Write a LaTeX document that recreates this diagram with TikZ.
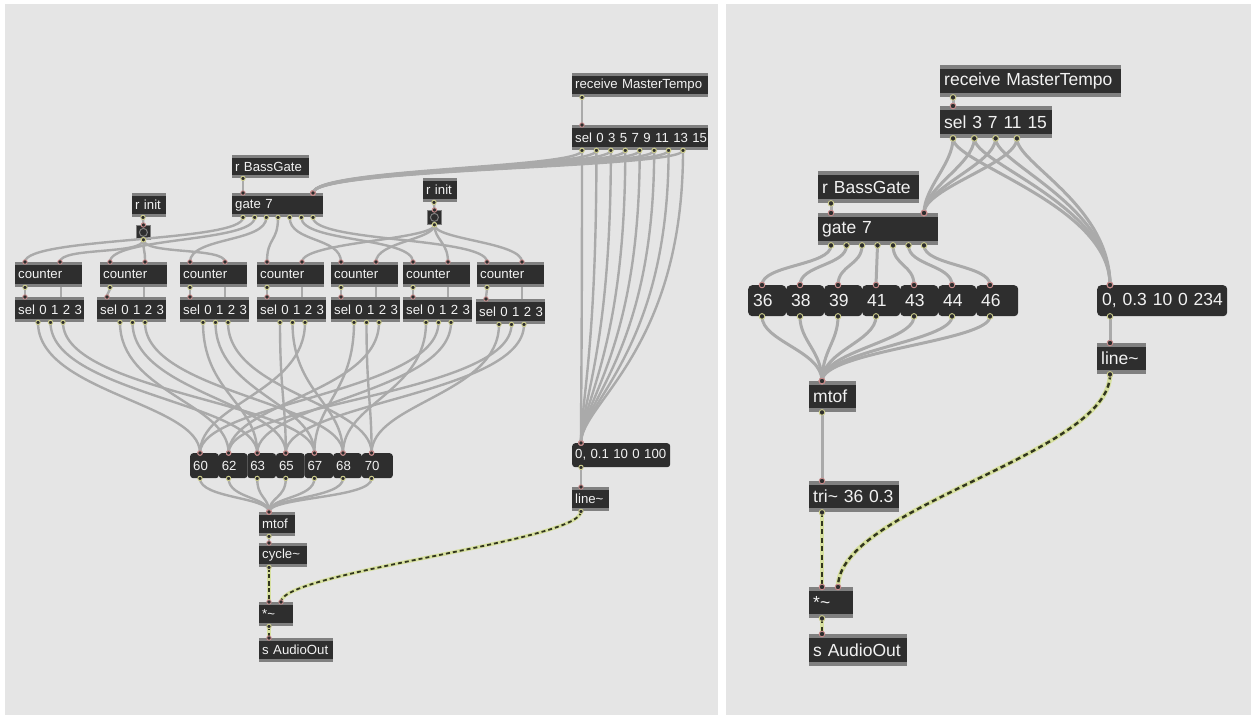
\documentclass[tikz,border=0pt]{standalone}
\usepackage{fontspec}
\newfontfamily\patchfont{Liberation Sans}
\usetikzlibrary{positioning}

\definecolor{patchbg}{RGB}{229,229,229}
\definecolor{boxbody}{RGB}{46,46,46}
\definecolor{boxstrip}{RGB}{128,128,128}
\definecolor{boxtext}{RGB}{242,242,242}
\definecolor{cordgray}{RGB}{170,170,170}
\definecolor{signalbase}{RGB}{215,224,160}
\definecolor{signaldash}{RGB}{50,54,30}
\definecolor{inletring}{RGB}{200,140,140}
\definecolor{outletring}{RGB}{205,205,140}

\newcommand{\smallpatch}{\patchfont\fontsize{13.2}{14}\selectfont}
\newcommand{\bigpatch}{\patchfont\fontsize{17.5}{18}\selectfont}
\newcommand{\portsize}{2.2pt}

\tikzset{max box/.style={rectangle, fill=boxbody, text=boxtext, anchor=north west,
    inner xsep=3pt, inner ysep=0pt, align=left,
    execute at begin node={\hbox\bgroup}, execute at end node={\egroup}}}
\tikzset{strips/.style={path picture={
      \fill [boxstrip] (path picture bounding box.north west) rectangle
        ([yshift=-#1]path picture bounding box.north east);
      \fill [boxstrip] (path picture bounding box.south west) rectangle
        ([yshift=#1]path picture bounding box.south east);}}}
\tikzset{obj/.style 2 args={max box, strips=3pt, font=\smallpatch,
    text width=#1, minimum height=#2}}
\tikzset{big obj/.style 2 args={max box, strips=4pt, font=\bigpatch,
    inner xsep=4pt, text width=#1, minimum height=#2}}
\tikzset{msg/.style 2 args={max box, rounded corners=3pt, font=\smallpatch,
    text width=#1, minimum height=#2}}
\tikzset{big msg/.style 2 args={max box, rounded corners=4pt, font=\bigpatch,
    inner xsep=5pt, text width=#1, minimum height=#2}}
\tikzset{bang box/.style={rectangle, fill=boxbody, draw=boxstrip, line width=0.8pt,
    anchor=north west, minimum size=14pt, inner sep=0pt,
    path picture={\draw [boxstrip, line width=1pt]
      (path picture bounding box.center) circle (4pt);}}}
\tikzset{cord/.style={draw=cordgray, line width=2.4pt}}
\tikzset{big cord/.style={draw=cordgray, line width=3pt}}
\tikzset{signal base/.style={draw=signalbase, line width=3.6pt}}
\tikzset{signal dash/.style={draw=signaldash, line width=1.8pt, dash pattern=on 4pt off 3pt}}
\tikzset{inlet dot/.style={fill=boxbody, draw=inletring, line width=0.9pt}}
\tikzset{outlet dot/.style={fill=boxbody, draw=outletring, line width=0.9pt}}

\newcommand{\patchcord}[5][cord]{%
  \draw [#1] (#2) .. controls +(0,#4) and +(0,-#5) .. (#3);
  \draw [outlet dot] (#2) circle (\portsize);
  \draw [inlet dot] (#3) circle (\portsize);}
\newcommand{\signalcord}[4]{%
  \draw [signal base] (#1) .. controls +(0,#3) and +(0,-#4) .. (#2);
  \draw [signal dash] (#1) .. controls +(0,#3) and +(0,-#4) .. (#2);
  \draw [outlet dot] (#1) circle (\portsize);
  \draw [inlet dot] (#2) circle (\portsize);}

\begin{document}
\begin{tikzpicture}[x=1pt, y=-1pt]
  \useasboundingbox (0,0) rectangle (1251,717);
  \fill [white] (0,0) rectangle (1251,717);
  \fill [patchbg] (5,4) rectangle (718,715);
  \fill [patchbg] (726,4) rectangle (1251,715);

  % left patch
  \begin{scope}
    \node [obj={130pt}{24pt}]    (recvL)  at (572, 73)  {receive MasterTempo};
    \node [obj={130pt}{25pt}]    (selL)   at (572,125)  {sel 0 3 5 7 9 11 13 15};
    \node [obj={71pt}{23pt}]     (bassL)  at (232,155)  {r BassGate};
    \node [obj={85pt}{24pt}]     (gateL)  at (232,193)  {gate 7};
    \node [obj={28pt}{24pt}]     (initA)  at (132,193)  {r init};
    \node [bang box]             (bangA)  at (136,225)  {};
    \node [obj={28pt}{24pt}]     (initB)  at (423,178)  {r init};
    \node [bang box]             (bangB)  at (427,210)  {};
    \foreach \x [count=\i] in {15,100,180,257,331,403,477}
      \node [obj={61pt}{25pt}]   (cntL\i) at (\x,262)   {counter};
    \foreach \x/\ypos [count=\i] in {15/297,97/297,180/297,257/297,331/297,403/297,476/299}
      \node [obj={63pt}{25pt}]   (selL\i) at (\x,\ypos) {sel 0 1 2 3};
    \foreach \v/\w [count=\i] in {60/22.6,62/22.6,63/22.6,65/22.6,67/22.6,68/22.6,70/25}
      \node [msg={\w pt}{25pt}]  (noteL\i) at ({190+28.6*(\i-1)},453) {\v};
    \node [obj={30pt}{24pt}]     (mtofL)  at (259,512)  {mtof};
    \node [obj={42pt}{24pt}]     (cycL)   at (259,543)  {cycle\textasciitilde};
    \node [obj={28pt}{24pt}]     (mulL)   at (259,602)  {*\textasciitilde};
    \node [obj={68pt}{24pt}]     (outL)   at (259,638)  {s AudioOut};
    \node [msg={92pt}{24pt}]     (envL)   at (572,443)  {0, 0.1 10 0 100};
    \node [obj={31pt}{24pt}]     (lineL)  at (572,487)  {line\textasciitilde};

    \patchcord{[xshift=10pt]recvL.south west}{[xshift=10pt]selL.north west}{5}{5}
    \foreach \i in {0,...,7} {
      \pgfmathsetmacro{\ox}{10+14.43*\i}
      \patchcord{[xshift=\ox pt]selL.south west}{[xshift=81pt]gateL.north west}{18}{25}
      \patchcord{[xshift=\ox pt]selL.south west}{[xshift=9pt]envL.north west}{200}{40}
    }
    \patchcord{[xshift=11pt]bassL.south west}{[xshift=11pt]gateL.north west}{5}{5}
    \patchcord{[xshift=11pt]initA.south west}{bangA.north}{3}{3}
    \patchcord{[xshift=11pt]initB.south west}{bangB.north}{3}{3}
    \foreach \i in {1,...,7} {
      \pgfmathsetmacro{\ox}{11+11.67*(\i-1)}
      \patchcord{[xshift=\ox pt]gateL.south west}{[xshift=10pt]cntL\i.north west}{25}{25}
    }
    \foreach \i in {1,2,3} {
      \patchcord{bangA.south}{[xshift=45pt]cntL\i.north west}{15}{15}
    }
    \foreach \i in {4,...,7} {
      \patchcord{bangB.south}{[xshift=45pt]cntL\i.north west}{15}{20}
    }
    \foreach \i/\a/\b in {1/46/46,2/44/47,3/45/45,4/45/45,5/45/45,6/45/45,7/45/46} {
      \patchcord{[xshift=10pt]cntL\i.south west}{[xshift=10pt]selL\i.north west}{4}{4}
      \draw [cord] ([xshift=\a pt]cntL\i.south west) -- ([xshift=\b pt]selL\i.north west);
    }
    % chord tones of each counter step
    \foreach \k in {1,...,7} {
      \foreach \j in {0,1,2} {
        \pgfmathtruncatemacro{\nidx}{mod(\k-1+2*\j,7)+1}
        \pgfmathsetmacro{\ox}{23+12.5*\j}
        \patchcord{[xshift=\ox pt]selL\k.south west}{[xshift=10pt]noteL\nidx.north west}{70}{50}
      }
    }
    \foreach \i in {1,...,7} {
      \patchcord{[xshift=10pt]noteL\i.south west}{[xshift=10pt]mtofL.north west}{20}{15}
    }
    \patchcord{[xshift=10pt]mtofL.south west}{[xshift=10pt]cycL.north west}{3}{3}
    \patchcord{[xshift=9pt]envL.south west}{[xshift=9pt]lineL.north west}{3}{3}
    \signalcord{[xshift=10pt]cycL.south west}{[xshift=10pt]mulL.north west}{10}{10}
    \signalcord{[xshift=9pt]lineL.south west}{[xshift=22pt]mulL.north west}{30}{30}
    \signalcord{[xshift=10pt]mulL.south west}{[xshift=10pt]outL.north west}{3}{3}
  \end{scope}

  % right patch
  \begin{scope}
    \renewcommand{\portsize}{2.8pt}
    \tikzset{signal base/.append style={line width=4.6pt},
      signal dash/.append style={line width=2.4pt, dash pattern=on 5pt off 3.5pt}}
    \node [big obj={173pt}{32pt}] (recvR) at (940, 65) {receive MasterTempo};
    \node [big obj={104pt}{32pt}] (selR)  at (940,106) {sel 3 7 11 15};
    \node [big obj={93pt}{32pt}]  (bassR) at (818,171) {r BassGate};
    \node [big obj={112pt}{32pt}] (gateR) at (818,213) {gate 7};
    \foreach \v/\w [count=\i] in {36/28,38/28,39/28,41/28,43/28,44/28,46/32}
      \node [big msg={\w pt}{31pt}] (noteR\i) at ({748+38*(\i-1)},285) {\v};
    \node [big msg={120pt}{31pt}] (envR)  at (1097,285) {0, 0.3 10 0 234};
    \node [big obj={41pt}{31pt}]  (lineR) at (1097,343) {line\textasciitilde};
    \node [big obj={39pt}{31pt}]  (mtofR) at (809,381)  {mtof};
    \node [big obj={82pt}{31pt}]  (triR)  at (809,481)  {tri\textasciitilde{} 36 0.3};
    \node [big obj={36pt}{31pt}]  (mulR)  at (809,587)  {*\textasciitilde};
    \node [big obj={90pt}{32pt}]  (outR)  at (809,634)  {s AudioOut};

    \patchcord[big cord]{[xshift=13pt]recvR.south west}{[xshift=13pt]selR.north west}{4}{4}
    \foreach \i in {0,...,3} {
      \pgfmathsetmacro{\ox}{13+21.3*\i}
      \patchcord[big cord]{[xshift=\ox pt]selR.south west}{[xshift=106pt]gateR.north west}{25}{25}
      \patchcord[big cord]{[xshift=\ox pt]selR.south west}{[xshift=13pt]envR.north west}{25}{80}
    }
    \patchcord[big cord]{[xshift=13pt]bassR.south west}{[xshift=13pt]gateR.north west}{4}{4}
    \foreach \i in {1,...,7} {
      \pgfmathsetmacro{\ox}{13+15.5*(\i-1)}
      \patchcord[big cord]{[xshift=\ox pt]gateR.south west}{[xshift=14pt]noteR\i.north west}{20}{20}
      \patchcord[big cord]{[xshift=14pt]noteR\i.south west}{[xshift=13pt]mtofR.north west}{25}{30}
    }
    \patchcord[big cord]{[xshift=13pt]envR.south west}{[xshift=13pt]lineR.north west}{5}{5}
    \patchcord[big cord]{[xshift=13pt]mtofR.south west}{[xshift=13pt]triR.north west}{10}{10}
    \signalcord{[xshift=13pt]triR.south west}{[xshift=13pt]mulR.north west}{10}{10}
    \signalcord{[xshift=13pt]lineR.south west}{[xshift=29pt]mulR.north west}{80}{80}
    \signalcord{[xshift=13pt]mulR.south west}{[xshift=13pt]outR.north west}{3}{3}
  \end{scope}
\end{tikzpicture}
\end{document}
